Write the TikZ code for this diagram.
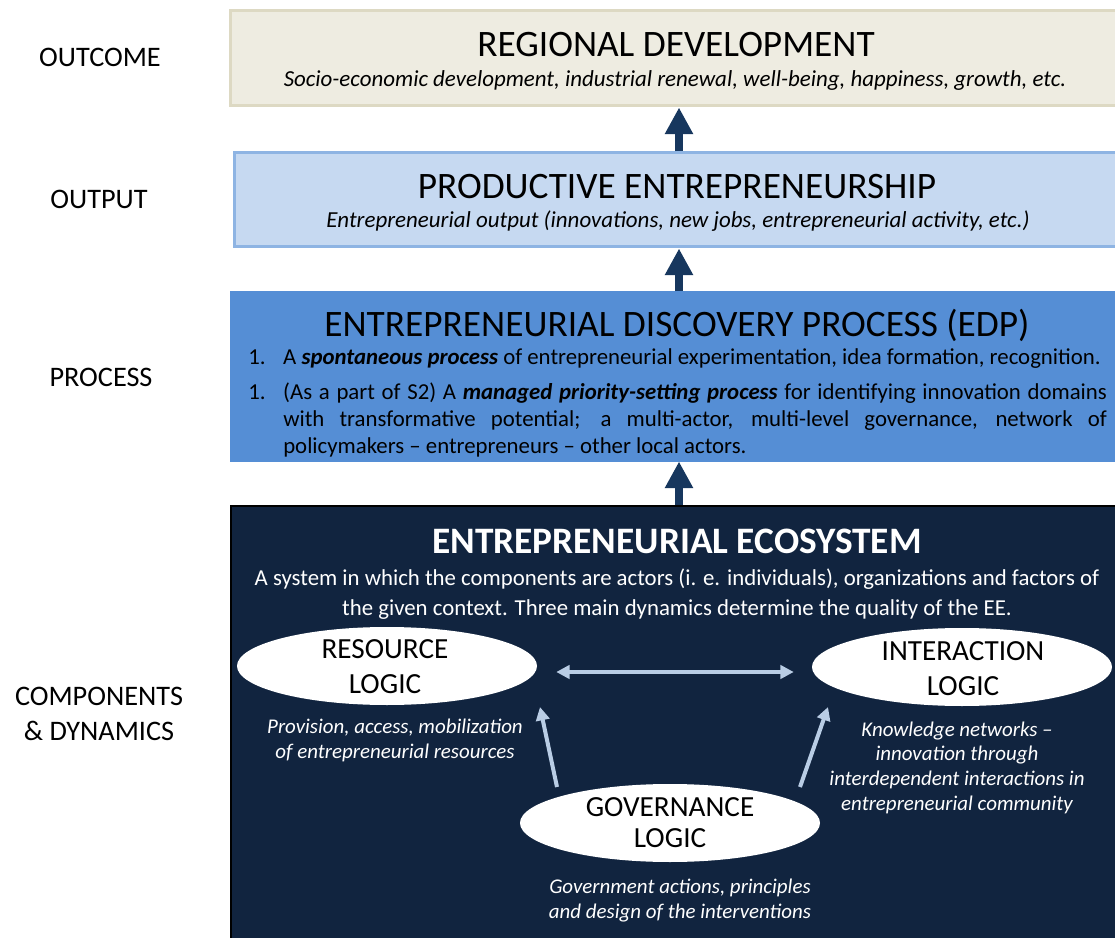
\documentclass[tikz,border=0pt]{standalone}
\usepackage{fontspec}
\setmainfont{Carlito}
\usepackage{xcolor}
\usepackage{tikz}
\usetikzlibrary{calc}
\usetikzlibrary{arrows.meta}
\usetikzlibrary{shapes.geometric}
\definecolor{outcomefill}{HTML}{EEECE1}
\definecolor{outcomeline}{HTML}{DDD9C3}
\definecolor{outputfill}{HTML}{C6D9F1}
\definecolor{outputline}{HTML}{8EB4E3}
\definecolor{processfill}{HTML}{558ED5}
\definecolor{ecofill}{HTML}{11243F}
\definecolor{navyarrow}{HTML}{17375E}
\definecolor{linkblue}{HTML}{B9CDE5}
\tikzstyle{levelbox}=[shape=rectangle, line width=2.25pt, inner sep=0pt]
\tikzstyle{sidelabel}=[black, align=center, inner sep=0pt, anchor=base, font=\fontsize{21.2}{26.25}\selectfont]
\tikzstyle{boxtitle}=[black, inner sep=0pt, anchor=base, font=\fontsize{28}{30}\selectfont]
\tikzstyle{boxsub}=[black, inner sep=0pt, anchor=base, font=\itshape\fontsize{17.2}{20}\selectfont]
\tikzstyle{logicnode}=[shape=ellipse, fill=white, draw=none, minimum width=225pt, minimum height=58.5pt, inner sep=0pt]
\tikzstyle{logictext}=[black, align=center, inner sep=0pt, anchor=base, font=\fontsize{21.9}{26.25}\selectfont]
\tikzstyle{notetext}=[white, align=center, inner sep=0pt, anchor=base, font=\itshape\fontsize{15.7}{18.5}\selectfont]
\tikzstyle{bigarrow}=[-{Triangle[length=20pt, width=20pt]}, line width=6pt, color=navyarrow]
\tikzstyle{linkarrow}=[line width=3pt, color=linkblue]
\newcommand{\edpitem}{\noindent\leftskip=26.25pt\llap{\makebox[26.25pt][l]{1.}}}

\begin{document}
\begin{tikzpicture}[x=0.75pt, y=-0.75pt]
\useasboundingbox (0,0) rectangle (1115,938);

% the four levels
\node [levelbox, fill=outcomefill, draw=outcomeline, minimum width=673.5pt, minimum height=71.25pt] (outcome) at (679,58.5) {};
\node [levelbox, fill=outputfill, draw=outputline, minimum width=667.5pt, minimum height=70.5pt] (output) at (679,200) {};
\node [levelbox, fill=processfill, draw=processfill, minimum width=672pt, minimum height=125.25pt] (process) at (679,376.5) {};
\node [levelbox, fill=ecofill, draw=black, line width=1.5pt, minimum width=672pt, minimum height=329.25pt] (eco) at (679,725.5) {};

\draw[bigarrow] (output) -- (outcome);
\draw[bigarrow] (process) -- (output);
\draw[bigarrow] (eco) -- (process);

% labels on the left
\node [sidelabel] (lbl0) at (100,67) {OUTCOME};
\node [sidelabel] (lbl1) at (99,209) {OUTPUT};
\node [sidelabel] (lbl2) at (101,386) {PROCESS};
\node [sidelabel] (lbl3) at (99,740) {COMPONENTS\\\& DYNAMICS};

% texts of the levels
\node [boxtitle] (title0) at (676,57) {REGIONAL DEVELOPMENT};
\node [boxsub] (sub0) at (675,87) {Socio-economic development, industrial renewal, well-being, happiness, growth, etc.};
\node [boxtitle] (title1) at (677,199) {PRODUCTIVE ENTREPRENEURSHIP};
\node [boxsub] (sub1) at (678,228) {Entrepreneurial output (innovations, new jobs, entrepreneurial activity, etc.)};
\node [boxtitle] (title2) at (677,337) {ENTREPRENEURIAL DISCOVERY PROCESS (EDP)};
\node [black, inner sep=0pt, anchor=base west, text width=644pt, align=justify, font=\fontsize{17.1}{20.3}\selectfont] (edplist) at (248,364) {%
\hyphenpenalty=10000
\edpitem A \textbf{\textit{spontaneous process}} of entrepreneurial experimentation, idea formation, recognition.\par
\vspace{6pt}
\edpitem (As a part of S2) A \textbf{\textit{managed priority-setting process}} for identifying innovation domains\linebreak with transformative potential; a multi-actor, multi-level governance, network of\linebreak policymakers -- entrepreneurs -- other local actors.\par};

\node [boxtitle, white, font=\bfseries\fontsize{28}{30}\selectfont] (title3) at (677,553) {ENTREPRENEURIAL ECOSYSTEM};
\node [white, align=center, inner sep=0pt, anchor=base, font=\fontsize{17.1}{22.5}\selectfont] (ecotext) at (677,615) {A system in which the components are actors (i. e. individuals), organizations and factors of\\the given context. Three main dynamics determine the quality of the EE.};

% the three logics
\node [logicnode] (resource) at (387,666) {};
\node [logicnode] (interaction) at (962,667) {};
\node [logicnode] (governance) at (670,823) {};
\node [logictext] (resourcetxt) at (385,693) {RESOURCE\\LOGIC};
\node [logictext] (interactiontxt) at (963,695) {INTERACTION\\LOGIC};
\node [logictext, font=\fontsize{21.9}{23.25}\selectfont] (governancetxt) at (670,847) {GOVERNANCE\\LOGIC};

\draw[linkarrow, {Triangle[length=10pt, width=10pt]}-{Triangle[length=10pt, width=10pt]}] ($(resource.east)+(19,6)$) -- ($(interaction.west)+(-18,5)$);
\draw[linkarrow, -{Triangle[length=10pt, width=10pt]}] ($(governance.center)+(-113,-36)$) -- ($(resource.center)+(153,41)$);
\draw[linkarrow, -{Triangle[length=10pt, width=10pt]}] ($(governance.center)+(130,-36)$) -- ($(interaction.center)+(-134,40)$);

\node [notetext] (resourcenote) at (395,758) {Provision, access, mobilization\\of entrepreneurial resources};
\node [notetext] (interactionnote) at (957,810) {Knowledge networks --\\innovation through\\interdependent interactions in\\entrepreneurial community};
\node [notetext] (governancenote) at (680,918) {Government actions, principles\\and design of the interventions};
\end{tikzpicture}
\end{document}
